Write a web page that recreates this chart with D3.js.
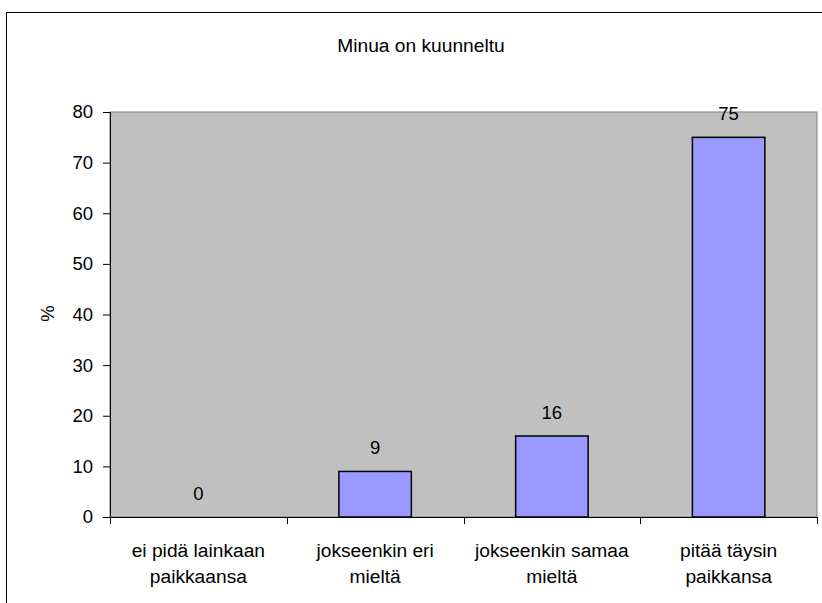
<!DOCTYPE html>
<html>
<head>
<meta charset="utf-8">
<script src="https://cdn.jsdelivr.net/npm/d3@7"></script>
<style>
  html, body { margin: 0; padding: 0; background: #fff; }
  svg { display: block; font-family: "Liberation Sans", Arial, sans-serif; }
</style>
</head>
<body>
<svg id="chart" width="822" height="603"></svg>
<script>
// Survey answers for "Minua on kuunneltu", share of respondents (%)
const categories = [
  ["ei pidä lainkaan", "paikkaansa"],
  ["jokseenkin eri", "mieltä"],
  ["jokseenkin samaa", "mieltä"],
  ["pitää täysin", "paikkansa"]
];
const values = [0, 9, 16, 75];
const yTicks = [0, 10, 20, 30, 40, 50, 60, 70, 80];
const title = "Minua on kuunneltu";
const yLabel = "%";

const FS = 18.5;   // tick and value labels
const FS_TEXT = 19.2; // title and category labels
const svg = d3.select("#chart");

// Outer chart frame
svg.append("rect")
  .attr("x", 6.5).attr("y", 12.5)
  .attr("width", 840).attr("height", 620)
  .attr("fill", "#fff").attr("stroke", "#000").attr("stroke-width", 1);

const plot = { left: 110, right: 817, top: 112, bottom: 517 };

const x = d3.scaleBand()
  .domain(d3.range(categories.length))
  .range([plot.left, plot.right])
  .paddingInner(0).paddingOuter(0);

const y = d3.scaleLinear().domain([0, 80]).range([plot.bottom, plot.top]);

// Plot background
svg.append("rect")
  .attr("x", plot.left).attr("y", plot.top)
  .attr("width", plot.right - plot.left).attr("height", plot.bottom - plot.top)
  .attr("fill", "#c0c0c0")
  .attr("stroke", "#808080").attr("stroke-width", 1);

// Title
svg.append("text")
  .attr("x", 421).attr("y", 52)
  .attr("text-anchor", "middle")
  .attr("font-size", FS_TEXT)
  .attr("fill", "#000")
  .text(title);

// Bars
const barW = x.bandwidth() * 0.41;
svg.append("g").selectAll("rect")
  .data(values.map((v, i) => ({ v, i })).filter(d => d.v > 0))
  .join("rect")
  .attr("x", d => x(d.i) + (x.bandwidth() - barW) / 2)
  .attr("y", d => y(d.v))
  .attr("width", barW)
  .attr("height", d => y(0) - y(d.v))
  .attr("fill", "#9999ff")
  .attr("stroke", "#000").attr("stroke-width", 1.5);

// Value labels
svg.append("g").selectAll("text")
  .data(values)
  .join("text")
  .attr("x", (d, i) => x(i) + x.bandwidth() / 2)
  .attr("y", d => y(d) - 17)
  .attr("text-anchor", "middle")
  .attr("font-size", FS)
  .attr("fill", "#000")
  .text(d => d);

// Y axis
const yAxis = d3.axisLeft(y).tickValues(yTicks).tickSize(7).tickPadding(10);
const gy = svg.append("g")
  .attr("transform", `translate(${plot.left},0)`)
  .call(yAxis);
gy.select(".domain").attr("stroke", "#000").attr("d", `M0.5,${plot.top}V${plot.bottom}`);
gy.selectAll(".tick line").attr("stroke", "#000");
gy.selectAll(".tick text").attr("font-size", FS).attr("fill", "#000")
  .attr("font-family", "Liberation Sans, Arial, sans-serif");

// X axis: ticks at category boundaries
const gx = svg.append("g").attr("transform", `translate(0,${plot.bottom})`);
gx.append("line")
  .attr("x1", plot.left).attr("x2", plot.right)
  .attr("y1", 0.5).attr("y2", 0.5)
  .attr("stroke", "#000");
const bounds = d3.range(categories.length + 1).map(i => plot.left + i * x.step());
gx.selectAll("line.tick")
  .data(bounds)
  .join("line")
  .attr("class", "tick")
  .attr("x1", d => Math.round(d) + 0.5).attr("x2", d => Math.round(d) + 0.5)
  .attr("y1", 0).attr("y2", 7)
  .attr("stroke", "#000");

// Category labels (two lines)
const cl = svg.append("g").selectAll("text")
  .data(categories)
  .join("text")
  .attr("x", (d, i) => x(i) + x.bandwidth() / 2)
  .attr("y", 557)
  .attr("text-anchor", "middle")
  .attr("font-size", FS_TEXT)
  .attr("fill", "#000");
cl.selectAll("tspan")
  .data(d => d)
  .join("tspan")
  .attr("x", function() { return d3.select(this.parentNode).attr("x"); })
  .attr("dy", (d, i) => i === 0 ? 0 : 26)
  .text(d => d);

// Y axis title
svg.append("text")
  .attr("transform", `translate(54,${(plot.top + plot.bottom) / 2 - 1}) rotate(-90)`)
  .attr("text-anchor", "middle")
  .attr("font-size", FS)
  .attr("fill", "#000")
  .text(yLabel);
</script>
</body>
</html>
